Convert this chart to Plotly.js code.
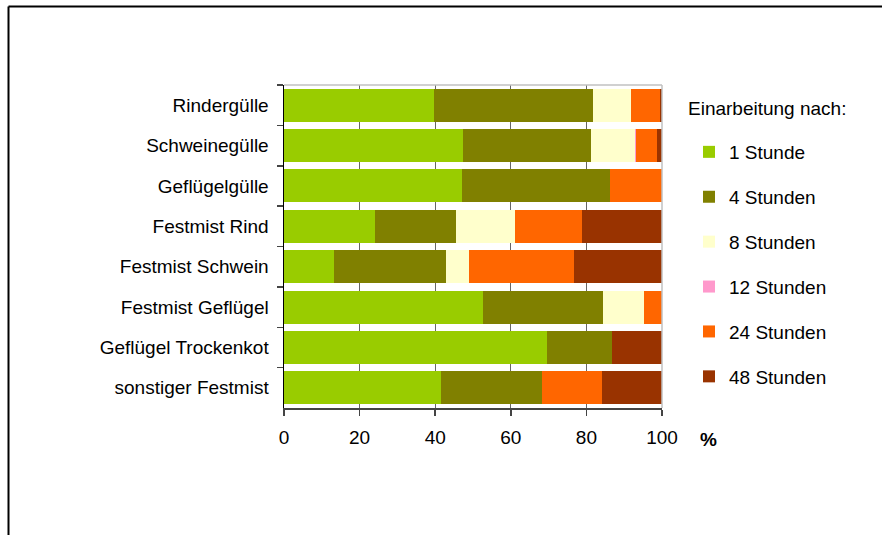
<!DOCTYPE html>
<html>
<head>
<meta charset="utf-8">
<script src="https://cdn.plot.ly/plotly-3.0.1.min.js"></script>
<style>html,body{margin:0;padding:0;background:#fff;}#chart{width:882px;height:535px;}</style>
</head>
<body>
<div id="chart"></div>
<script>
const categories = ["Rindergülle", "Schweinegülle", "Geflügelgülle", "Festmist Rind", "Festmist Schwein", "Festmist Geflügel", "Geflügel Trockenkot", "sonstiger Festmist"];
const seriesNames = ["1 Stunde", "4 Stunden", "8 Stunden", "12 Stunden", "24 Stunden", "48 Stunden"];
const h1  = [39.6, 47.3, 47.0, 24.2, 13.1, 52.6, 69.6, 41.5];
const h4  = [42.2, 34.0, 39.3, 21.2, 29.7, 31.8, 17.2, 26.8];
const h8  = [10.1, 11.6, 0, 15.7, 6.1, 10.9, 0, 0];
const h12 = [0, 0.3, 0, 0, 0, 0, 0, 0];
const h24 = [7.7, 5.6, 13.7, 17.8, 27.8, 4.7, 0, 15.9];
const h48 = [0.4, 1.2, 0, 21.1, 23.3, 0, 13.2, 15.8];
const xTicks = [0, 20, 40, 60, 80, 100];
const colors = ["#99CC00", "#808000", "#FFFFCC", "#FF99CC", "#FF6600", "#993300"];
const legendTitle = "Einarbeitung nach:";

const seriesValues = [h1, h4, h8, h12, h24, h48];
const font = "Liberation Sans, Arial, sans-serif";

const traces = seriesValues.map((vals, i) => ({
  type: "bar",
  orientation: "h",
  name: seriesNames[i],
  y: categories,
  x: vals,
  legendgroup: "g" + i,
  marker: {color: colors[i], line: {width: 0}},
  hoverinfo: "name+x"
}));

// plot area: x 284..662 px, y 85..408 px
const L = 284, R = 662, T = 85, B = 408;
const px = v => (v - L) / (R - L);
const py = v => (B - v) / (B - T);

const layout = {
  width: 882, height: 535,
  margin: {l: L, r: 882 - R, t: T, b: 535 - B, pad: 0},
  paper_bgcolor: "#fff", plot_bgcolor: "#fff",
  barmode: "stack",
  bargap: 0.18,
  font: {family: font, size: 19, color: "#000"},
  xaxis: {
    range: [0, 100],
    tickvals: xTicks,
    ticktext: xTicks.map(String),
    showgrid: true, gridcolor: "#666", gridwidth: 1,
    zeroline: false,
    showline: true, linecolor: "#444", linewidth: 1.5,
    ticks: "outside", ticklen: 6, tickcolor: "#444", tickwidth: 1.5,
    ticklabelstandoff: 6,
    tickfont: {size: 19, family: font}
  },
  yaxis: {
    type: "category",
    autorange: "reversed",
    tickson: "boundaries",
    showgrid: false,
    showline: true, linecolor: "#000", linewidth: 1.5,
    ticks: "outside", ticklen: 6, tickcolor: "#444", tickwidth: 1.5,
    ticklabelstandoff: 10,
    tickfont: {size: 19, family: font}
  },
  legend: {
    x: px(689), y: py(133), xanchor: "left", yanchor: "top",
    traceorder: "grouped",
    tracegroupgap: 17.2,
    font: {size: 19, family: font},
    bgcolor: "rgba(0,0,0,0)", borderwidth: 0
  },
  annotations: [{
    xref: "paper", yref: "paper", x: px(708), y: py(439),
    text: "<b>%</b>", showarrow: false, xanchor: "center", yanchor: "middle",
    font: {size: 19, family: font}
  }, {
    xref: "paper", yref: "paper", x: px(686), y: py(108),
    text: legendTitle, showarrow: false, xanchor: "left", yanchor: "middle",
    font: {size: 19, family: font}
  }],
  shapes: [
    {type: "line", xref: "paper", yref: "paper", x0: px(662), x1: px(662), y0: py(408), y1: py(85), line: {color: "#c0c0c0", width: 1.5}},
    {type: "line", xref: "paper", yref: "paper", x0: px(284), x1: px(662), y0: py(85), y1: py(85), line: {color: "#c0c0c0", width: 1.5}},
    {type: "line", xref: "paper", yref: "paper", x0: px(8.5), x1: px(8.5), y0: py(540), y1: py(6.5), line: {color: "#000", width: 2}},
    {type: "line", xref: "paper", yref: "paper", x0: px(8.5), x1: px(890), y0: py(6.5), y1: py(6.5), line: {color: "#000", width: 2}}
  ]
};

Plotly.newPlot("chart", traces, layout, {displayModeBar: false, staticPlot: true});
</script>
</body>
</html>
